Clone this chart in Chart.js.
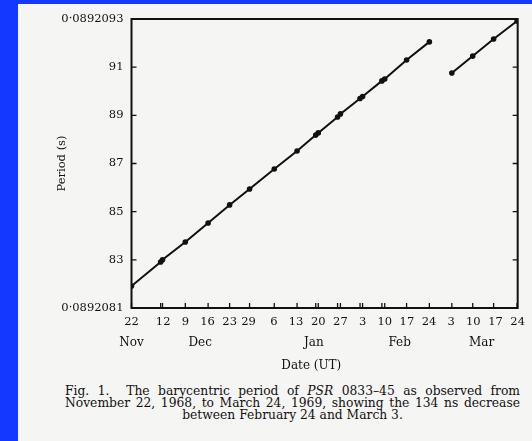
<!DOCTYPE html>
<html>
<head>
<meta charset="utf-8">
<script src="https://cdn.jsdelivr.net/npm/chart.js@4.4.0/dist/chart.umd.min.js"></script>
<style>
    html, body { margin: 0; padding: 0; }
    body { width: 532px; height: 441px; background: #1438ff; position: relative; overflow: hidden; }
    #paper { position: absolute; left: 18px; top: 4px; width: 514px; height: 437px; background: #f5f5f3; }
    #chartBox { position: absolute; left: 0; top: 0; width: 514px; height: 372px; }
    #caption { position: absolute; left: 47px; top: 381px; width: 455px; font-family: "DejaVu Serif", serif;
               font-size: 12.3px; line-height: 12px; color: #111; }
    #caption div { text-align: justify; text-align-last: justify; white-space: nowrap; }
    #caption div.last { text-align-last: center; text-align: center; }
</style>
</head>
<body>
<div id="paper">
    <div id="chartBox"><canvas id="periodChart" width="514" height="372"></canvas></div>
    <div id="caption">
        <div>Fig. 1.&nbsp; The barycentric period of <i>PSR</i> 0833–45 as observed from</div>
        <div>November 22, 1968, to March 24, 1969, showing the 134 ns decrease</div>
        <div class="last">between February 24 and March 3.</div>
    </div>
</div>
<script>
// 日数は 1968年11月22日 から数える
const beforeDays = [0, 9.2, 9.8, 17, 24.2, 31, 37.3, 45.1, 52.3, 58.2, 59, 65.1, 66, 72.2, 73, 79.1, 80, 86.9, 94.1];
const beforePeriod = [81.91, 82.91, 83.0, 83.74, 84.53, 85.28, 85.94, 86.77, 87.52, 88.18, 88.27, 88.93, 89.06, 89.7, 89.78, 90.43, 90.51, 91.3, 92.05];
const afterDays = [101.2, 107.8, 114.4, 121.8];
const afterPeriod = [90.76, 91.46, 92.17, 92.92];

// x軸の目盛り
const tickDays = [0, 10, 17, 24, 31, 37, 45, 52, 59, 66, 73, 80, 87, 94, 101, 108, 115, 122];
const tickLabels = ['22', '12', '9', '16', '23', '29', '6', '13', '20', '27', '3', '10', '17', '24', '3', '10', '17', '24'];
const monthDays = [0, 21.7, 57.6, 84.7, 110.6];
const monthLabels = ['Nov', 'Dec', 'Jan', 'Feb', 'Mar'];

// y軸の目盛り (0·08920xx の下2桁)
const periodTicks = [81, 83, 85, 87, 89, 91, 93];
const periodLabels = ['0·0892081', '83', '85', '87', '89', '91', '0·0892093'];

const ink = '#111';
const serif = 'DejaVu Serif';

// 枠・内向きの目盛り・月名
const framePlugin = {
    id: 'frame',
    afterDraw(chart) {
        const ctx = chart.ctx;
        const area = chart.chartArea;
        const x = chart.scales.x;
        const y = chart.scales.y;
        ctx.save();
        ctx.strokeStyle = ink;
        ctx.lineWidth = 2;
        ctx.strokeRect(area.left, area.top, area.right - area.left, area.bottom - area.top);

        ctx.lineWidth = 1.3;
        ctx.beginPath();
        beforeDays.concat(afterDays).forEach(d => {
            const px = x.getPixelForValue(d);
            ctx.moveTo(px, area.bottom);
            ctx.lineTo(px, area.bottom - 5);
        });
        periodTicks.slice(1, -1).forEach(v => {
            const py = y.getPixelForValue(v);
            ctx.moveTo(area.left, py);
            ctx.lineTo(area.left + 5, py);
            ctx.moveTo(area.right, py);
            ctx.lineTo(area.right - 5, py);
        });
        ctx.stroke();

        ctx.fillStyle = ink;
        ctx.font = '12px "' + serif + '"';
        ctx.textAlign = 'center';
        ctx.textBaseline = 'middle';
        monthDays.forEach((d, i) => {
            ctx.fillText(monthLabels[i], x.getPixelForValue(d), area.bottom + 35);
        });
        ctx.fillText('Date (UT)', x.getPixelForValue(56.8), area.bottom + 58);
        ctx.restore();
    }
};

const toPoints = (days, vals) => days.map((d, i) => ({ x: d, y: vals[i] }));

new Chart(document.getElementById('periodChart'), {
    type: 'line',
    data: {
        datasets: [{
            label: 'before',
            data: toPoints(beforeDays, beforePeriod),
            borderColor: ink,
            backgroundColor: ink,
            borderWidth: 2,
            pointRadius: 2.8,
            pointBorderWidth: 0,
            tension: 0
        }, {
            label: 'after',
            data: toPoints(afterDays, afterPeriod),
            borderColor: ink,
            backgroundColor: ink,
            borderWidth: 2,
            pointRadius: 2.8,
            pointBorderWidth: 0,
            tension: 0
        }]
    },
    options: {
        responsive: false,
        animation: false,
        events: [],
        layout: { padding: { top: 15, right: 9.5, left: 0, bottom: 0 } },
        plugins: {
            legend: { display: false },
            tooltip: { enabled: false }
        },
        scales: {
            x: {
                type: 'linear',
                min: 0,
                max: 122,
                afterBuildTicks: scale => { scale.ticks = tickDays.map(v => ({ value: v })); },
                afterFit: scale => { scale.height = 68; },
                grid: { display: false, drawTicks: false },
                border: { display: false },
                ticks: {
                    autoSkip: false,
                    maxRotation: 0,
                    padding: 7,
                    color: ink,
                    font: { family: serif, size: 11.5 },
                    callback: (v, i) => tickLabels[i]
                }
            },
            y: {
                min: 81,
                max: 93,
                afterBuildTicks: scale => { scale.ticks = periodTicks.map(v => ({ value: v })); },
                afterFit: scale => { scale.width = 113.5; },
                grid: { display: false, drawTicks: false },
                border: { display: false },
                ticks: {
                    padding: 8,
                    color: ink,
                    font: { family: serif, size: 11.5 },
                    callback: (v, i) => periodLabels[i]
                },
                title: {
                    display: true,
                    text: 'Period (s)',
                    color: ink,
                    font: { family: serif, size: 11.5 },
                    padding: { top: 37, bottom: 0 }
                }
            }
        }
    },
    plugins: [framePlugin]
});
</script>
</body>
</html>
